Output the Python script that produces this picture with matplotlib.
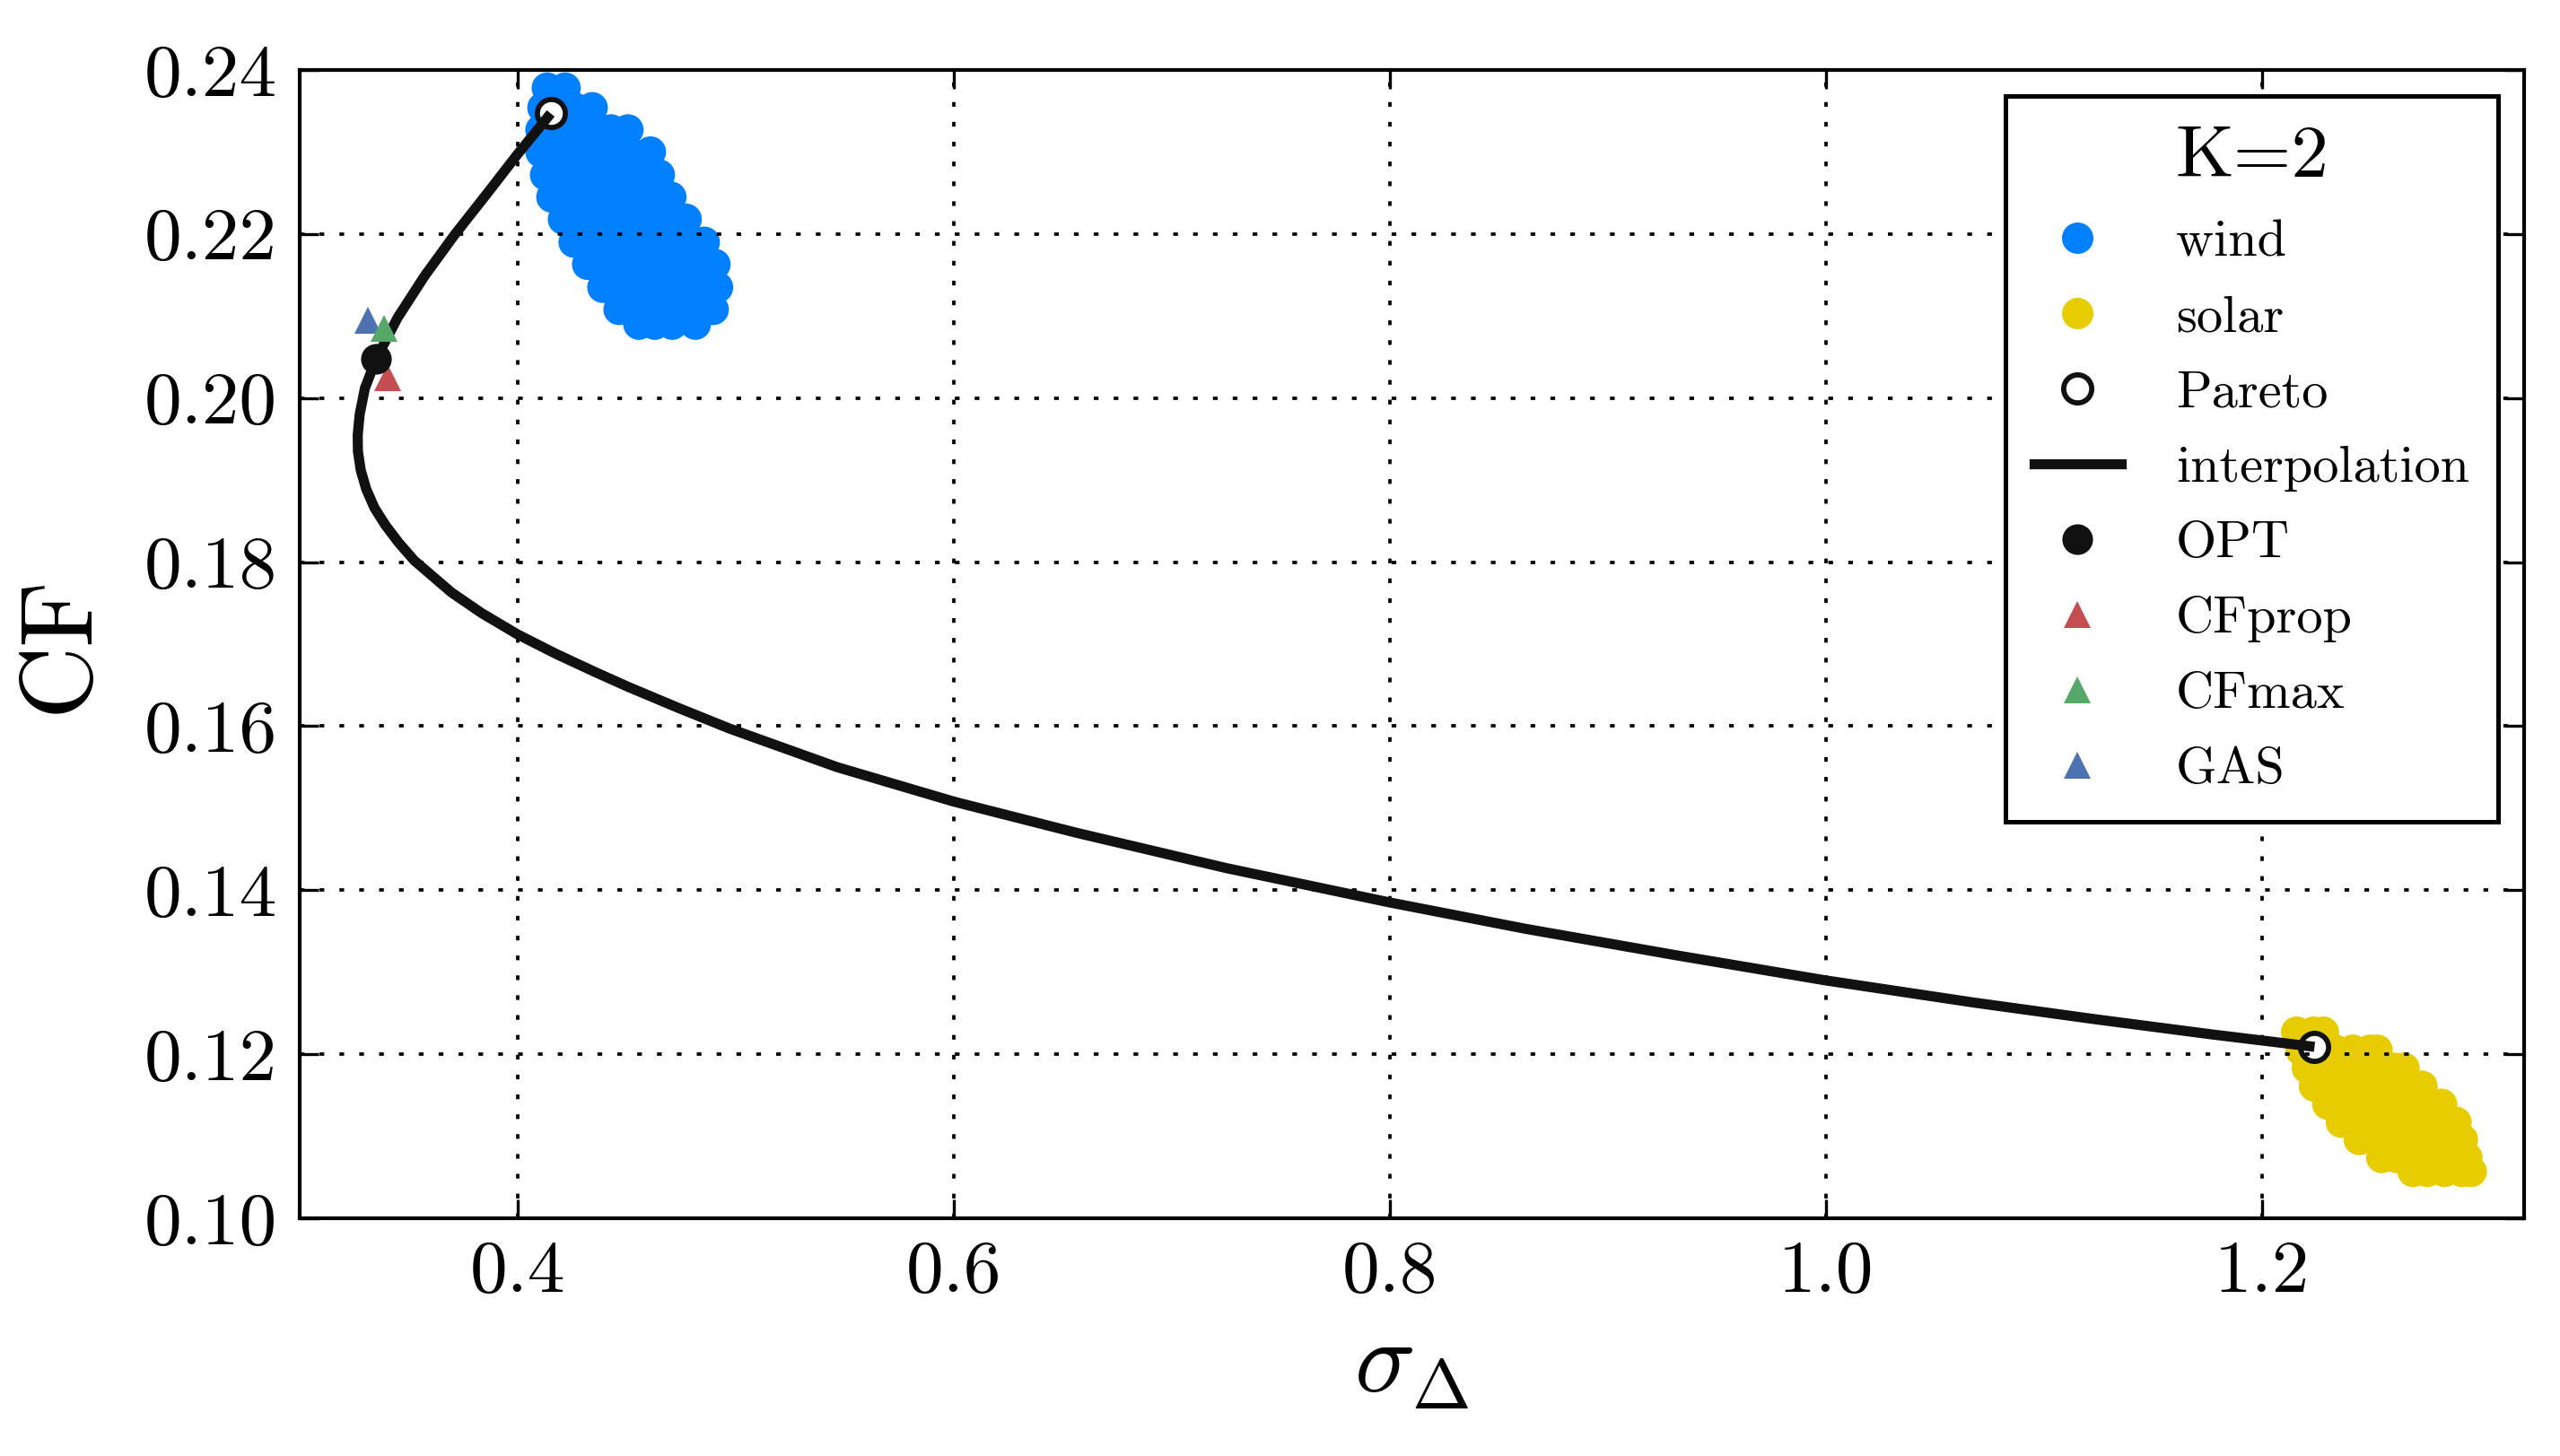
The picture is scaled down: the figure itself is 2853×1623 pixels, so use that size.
import matplotlib
matplotlib.use("Agg")
import matplotlib.pyplot as plt
from matplotlib.lines import Line2D

plt.rcParams.update({
    "font.family": "serif",
    "font.serif": ["cmr10"],
    "mathtext.fontset": "cm",
    "axes.formatter.use_mathtext": True,
    "axes.unicode_minus": False,
})

# ---------------- data ----------------
# wind cloud (rows of points: CF value per row, sigma values in that row)
wind_row_cf = [0.2378, 0.2354, 0.2327, 0.2300, 0.2272, 0.2245, 0.2218,
               0.2190, 0.2163, 0.2135, 0.2108, 0.2090]
wind_row_sigma = [
    [0.4137, 0.4219],
    [0.4117, 0.4190, 0.4260, 0.4343],
    [0.4108, 0.4190, 0.4270, 0.4350, 0.4430, 0.4507],
    [0.4108, 0.4190, 0.4270, 0.4350, 0.4430, 0.4510, 0.4610],
    [0.4129, 0.4210, 0.4290, 0.4370, 0.4450, 0.4530, 0.4590, 0.4651],
    [0.4158, 0.4240, 0.4320, 0.4400, 0.4480, 0.4560, 0.4630, 0.4704],
    [0.4211, 0.4290, 0.4370, 0.4450, 0.4530, 0.4610, 0.4690, 0.4774],
    [0.4260, 0.4340, 0.4420, 0.4500, 0.4580, 0.4660, 0.4740, 0.4800, 0.4857],
    [0.4322, 0.4400, 0.4480, 0.4560, 0.4640, 0.4720, 0.4800, 0.4860, 0.4906],
    [0.4392, 0.4470, 0.4550, 0.4630, 0.4710, 0.4790, 0.4870, 0.4918],
    [0.4466, 0.4540, 0.4620, 0.4700, 0.4780, 0.4850, 0.4898],
    [0.4557, 0.4630, 0.4710, 0.4816],
]

# solar cloud
solar_row_cf = [0.1227, 0.1205, 0.1183, 0.1161, 0.1139, 0.1117, 0.1096,
                0.1074, 0.1057]
solar_row_sigma = [
    [1.2157, 1.2235, 1.2280],
    [1.2177, 1.2255, 1.2335, 1.2415, 1.2495, 1.2526],
    [1.2206, 1.2285, 1.2365, 1.2445, 1.2525, 1.2605, 1.2650],
    [1.2239, 1.2315, 1.2395, 1.2475, 1.2555, 1.2635, 1.2695, 1.2732],
    [1.2300, 1.2375, 1.2455, 1.2535, 1.2615, 1.2695, 1.2775, 1.2822],
    [1.2362, 1.2435, 1.2515, 1.2595, 1.2675, 1.2755, 1.2835, 1.2888],
    [1.2444, 1.2515, 1.2595, 1.2675, 1.2755, 1.2835, 1.2917],
    [1.2547, 1.2615, 1.2695, 1.2775, 1.2855, 1.2938],
    [1.2691, 1.2755, 1.2835, 1.2915, 1.2958],
]

# Pareto end points
pareto_sigma = [0.4153, 1.2239]
pareto_cf = [0.2347, 0.1209]

# interpolation curve
interp_sigma = [0.4153, 0.4000, 0.3863, 0.3712, 0.3575, 0.3451, 0.3353,
                0.3301, 0.3277, 0.3268, 0.3269, 0.3282, 0.3307, 0.3345,
                0.3395, 0.3455, 0.3527, 0.3698, 0.3835, 0.4000, 0.4178,
                0.4356, 0.4507, 0.4740, 0.4973, 0.5466, 0.6001, 0.6563,
                0.7249, 0.8000, 0.8620, 0.9305, 0.9998, 1.0677, 1.1224,
                1.1773, 1.2239]
interp_cf = [0.2347, 0.2297, 0.2250, 0.2199, 0.2149, 0.2098, 0.2048,
             0.2012, 0.1980, 0.1955, 0.1935, 0.1912, 0.1889, 0.1866,
             0.1845, 0.1824, 0.1802, 0.1763, 0.1738, 0.1712, 0.1688,
             0.1666, 0.1648, 0.1622, 0.1597, 0.1550, 0.1508, 0.1470,
             0.1427, 0.1385, 0.1353, 0.1321, 0.1290, 0.1263, 0.1243,
             0.1224, 0.1209]

# single strategies
opt_point = (0.3353, 0.2048)
cfprop_point = (0.3406, 0.2025)
cfmax_point = (0.3387, 0.2085)
gas_point = (0.3314, 0.2095)

xticks = [0.4, 0.6, 0.8, 1.0, 1.2]
xticklabels = ["0.4", "0.6", "0.8", "1.0", "1.2"]
yticks = [0.10, 0.12, 0.14, 0.16, 0.18, 0.20, 0.22, 0.24]
yticklabels = ["0.10", "0.12", "0.14", "0.16", "0.18", "0.20", "0.22", "0.24"]

# ---------------- plotting ----------------
wind_x = [s for row in wind_row_sigma for s in row]
wind_y = [c for c, row in zip(wind_row_cf, wind_row_sigma) for _ in row]
solar_x = [s for row in solar_row_sigma for s in row]
solar_y = [c for c, row in zip(solar_row_cf, solar_row_sigma) for _ in row]

W, H, DPI = 2853, 1623, 300
fig = plt.figure(figsize=(W / DPI, H / DPI), dpi=DPI, facecolor="white")
ax = fig.add_axes([333.5 / W, 1 - 1358 / H, (2813 - 333.5) / W, (1358 - 78) / H])

c_wind = "#0080ff"
c_solar = "#e6cc00"
c_black = "#111111"

ax.scatter(wind_x, wind_y, s=70, c=c_wind, edgecolors="none", zorder=1)
ax.scatter(solar_x, solar_y, s=70, c=c_solar, edgecolors="none", zorder=1)
ax.plot(pareto_sigma, pareto_cf, "o", ms=7.5, mfc="white", mec=c_black,
        mew=1.4, zorder=2)
ax.plot(interp_sigma, interp_cf, "-", color=c_black, lw=2.7, zorder=3,
        solid_capstyle="butt", solid_joinstyle="round")
ax.plot([gas_point[0]], [gas_point[1]], "^", ms=7.2, color="#4c72b0",
        mec="none", zorder=4)
ax.plot([cfmax_point[0]], [cfmax_point[1]], "^", ms=7.2, color="#55a868",
        mec="none", zorder=4.1)
ax.plot([cfprop_point[0]], [cfprop_point[1]], "^", ms=7.2, color="#c44e52",
        mec="none", zorder=4)
ax.plot([opt_point[0]], [opt_point[1]], "o", ms=8.2, color=c_black,
        mec="none", zorder=5)

ax.set_xlim(0.3, 1.32)
ax.set_ylim(0.10, 0.24)
ax.set_xticks(xticks)
ax.set_xticklabels(xticklabels)
ax.set_yticks(yticks)
ax.set_yticklabels(yticklabels)
ax.minorticks_off()
ax.tick_params(direction="in", top=True, right=True, length=5, width=0.8,
               labelsize=20, pad=6, color="black")
for sp in ax.spines.values():
    sp.set_linewidth(1.0)
    sp.set_color("black")
ax.set_axisbelow(False)
ax.grid(True, color="black", linestyle=(0, (1.4, 4.5)), linewidth=0.9)

ax.set_xlabel(r"$\sigma_\Delta$", fontsize=27, labelpad=4)
ax.set_ylabel("CF", fontsize=27, labelpad=10)

handles = [
    Line2D([], [], ls="none", marker="o", ms=8.4, color=c_wind, mec="none"),
    Line2D([], [], ls="none", marker="o", ms=8.4, color=c_solar, mec="none"),
    Line2D([], [], ls="none", marker="o", ms=7.5, mfc="white", mec=c_black, mew=1.4),
    Line2D([], [], ls="-", color=c_black, lw=2.7),
    Line2D([], [], ls="none", marker="o", ms=8.2, color=c_black, mec="none"),
    Line2D([], [], ls="none", marker="^", ms=7.2, color="#c44e52", mec="none"),
    Line2D([], [], ls="none", marker="^", ms=7.2, color="#55a868", mec="none"),
    Line2D([], [], ls="none", marker="^", ms=7.2, color="#4c72b0", mec="none"),
]
labels = ["wind", "solar", "Pareto", "interpolation", "OPT", "CFprop",
          "CFmax", "GAS"]
leg = ax.legend(handles, labels, loc="upper right", title="K=2", fontsize=14,
                title_fontsize=20, numpoints=1, fancybox=False, framealpha=1,
                edgecolor="black", borderpad=0.55, handlelength=1.65,
                handletextpad=1.05, labelspacing=0.55, borderaxespad=0.5)
leg.get_frame().set_linewidth(1.2)
leg.set_zorder(10)

fig.savefig("out.png", dpi=DPI, facecolor="white")
